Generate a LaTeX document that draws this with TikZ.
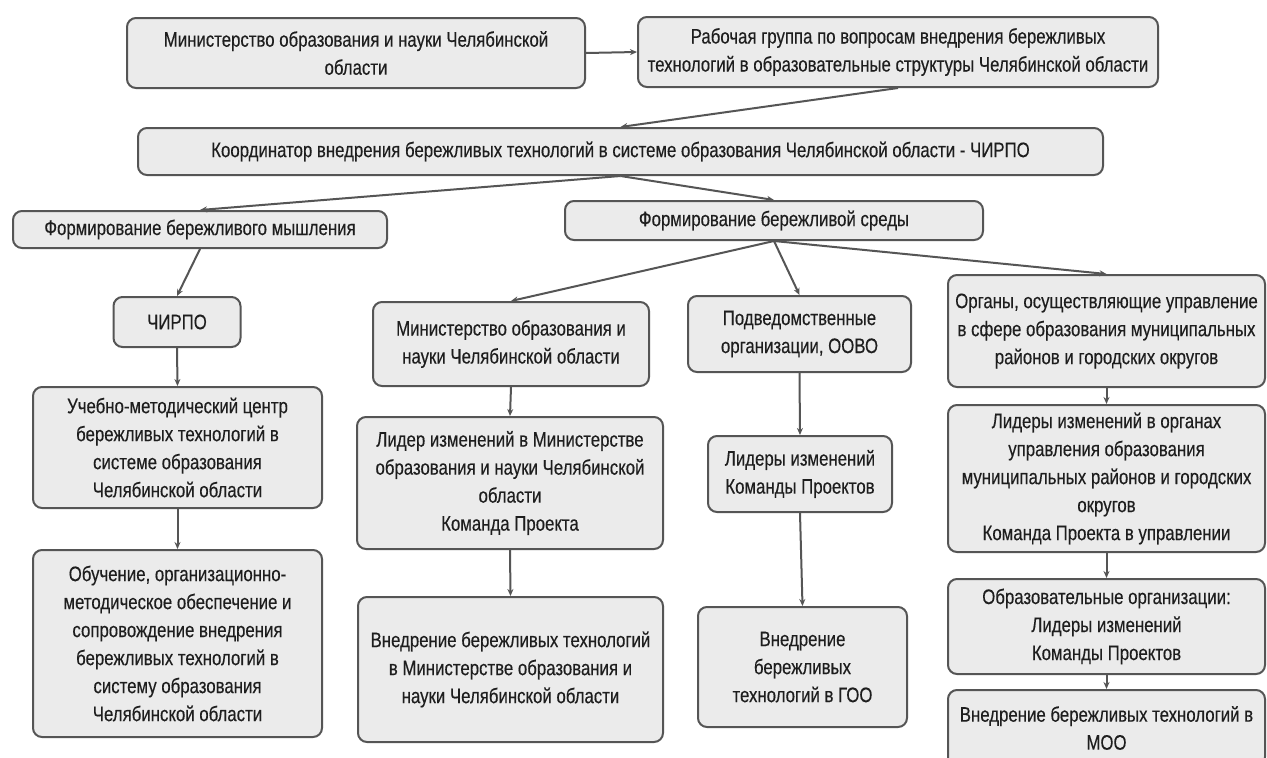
\documentclass[tikz,border=0pt]{standalone}
\usepackage{fontspec}
\setmainfont{Liberation Sans}[FakeStretch=0.8,FakeBold=0.3]
\usetikzlibrary{arrows.meta}
\definecolor{boxfill}{HTML}{EBEBEB}
\definecolor{boxline}{HTML}{555555}
\definecolor{txt}{HTML}{1E1E1E}
\begin{document}
\begin{tikzpicture}[x=1pt,y=-1pt,
  box/.style={draw=boxline, line width=2pt, fill=boxfill, rounded corners=9pt,
    align=center, inner sep=0pt, font=\fontsize{21}{28}\selectfont, text=txt},
  arr/.style={draw=boxline, line width=2pt, -{Stealth[length=7pt,width=6pt]}}]
\useasboundingbox[fill=white] (0,0) rectangle (1267,758);

\node[box, minimum width=458pt, minimum height=70pt] (min1) at (356,53)
  {Министерство образования и науки Челябинской\\области};
\node[box, minimum width=520pt, minimum height=70pt] (wg) at (898,52)
  {Рабочая группа по вопросам внедрения бережливых\\технологий в образовательные структуры Челябинской области};
\node[box, minimum width=965pt, minimum height=47pt] (coord) at (620.5,151.5)
  {Координатор внедрения бережливых технологий в системе образования Челябинской области - ЧИРПО};
\node[box, minimum width=374pt, minimum height=37pt] (mysh) at (200,229.5)
  {Формирование бережливого мышления};
\node[box, minimum width=418pt, minimum height=39pt] (sreda) at (774,220.5)
  {Формирование бережливой среды};

\node[box, minimum width=127pt, minimum height=50pt] (chirpo) at (177,322)
  {ЧИРПО};
\node[box, minimum width=289pt, minimum height=121pt] (ucheb) at (177.5,447.5)
  {Учебно-методический центр\\бережливых технологий в\\системе образования\\Челябинской области};
\node[box, minimum width=289pt, minimum height=187pt] (obuch) at (177.5,643.5)
  {Обучение, организационно-\\методическое обеспечение и\\сопровождение внедрения\\бережливых технологий в\\систему образования\\Челябинской области};

\node[box, minimum width=276pt, minimum height=84pt] (min2) at (511,344)
  {Министерство образования и\\науки Челябинской области};
\node[box, minimum width=306pt, minimum height=132pt] (lider) at (510,483)
  {Лидер изменений в Министерстве\\образования и науки Челябинской\\области\\Команда Проекта};
\node[box, minimum width=305pt, minimum height=145pt] (vnedr) at (510.5,669.5)
  {Внедрение бережливых технологий\\в Министерстве образования и\\науки Челябинской области};

\node[box, minimum width=223pt, minimum height=76pt] (podv) at (799.5,334)
  {Подведомственные\\организации, ООВО};
\node[box, minimum width=184pt, minimum height=76pt] (lidery) at (800,474)
  {Лидеры изменений\\Команды Проектов};
\node[box, minimum width=209pt, minimum height=120pt] (goo) at (802.5,667)
  {Внедрение\\бережливых\\технологий в ГОО};

\node[box, minimum width=317pt, minimum height=112pt] (organy) at (1106.5,331)
  {Органы, осуществляющие управление\\в сфере образования муниципальных\\районов и городских округов};
\node[box, minimum width=317pt, minimum height=147pt] (lidorg) at (1106.5,478.5)
  {Лидеры изменений в органах\\управления образования\\муниципальных районов и городских\\округов\\Команда Проекта в управлении};
\node[box, minimum width=317pt, minimum height=95pt] (obrorg) at (1106.5,626.5)
  {Образовательные организации:\\Лидеры изменений\\Команды Проектов};
\node[box, minimum width=317pt, minimum height=76pt] (moo) at (1106.5,728)
  {Внедрение бережливых технологий в\\МОО};

\draw[arr] (min1.east) -- (wg.west);
\draw[arr] (wg.south) -- (coord.north);
\draw[arr] (coord.south) -- (mysh.north);
\draw[arr] (coord.south) -- (sreda.north);
\draw[arr] (mysh.south) -- (chirpo.north);
\draw[arr] (chirpo.south) -- (ucheb.north);
\draw[arr] (ucheb.south) -- (obuch.north);
\draw[arr] (sreda.south) -- (min2.north);
\draw[arr] (sreda.south) -- (podv.north);
\draw[arr] (sreda.south) -- (organy.north);
\draw[arr] (min2.south) -- (lider.north);
\draw[arr] (lider.south) -- (vnedr.north);
\draw[arr] (podv.south) -- (lidery.north);
\draw[arr] (lidery.south) -- (goo.north);
\draw[arr] (organy.south) -- (lidorg.north);
\draw[arr] (lidorg.south) -- (obrorg.north);
\draw[arr] (obrorg.south) -- (moo.north);
\end{tikzpicture}
\end{document}
